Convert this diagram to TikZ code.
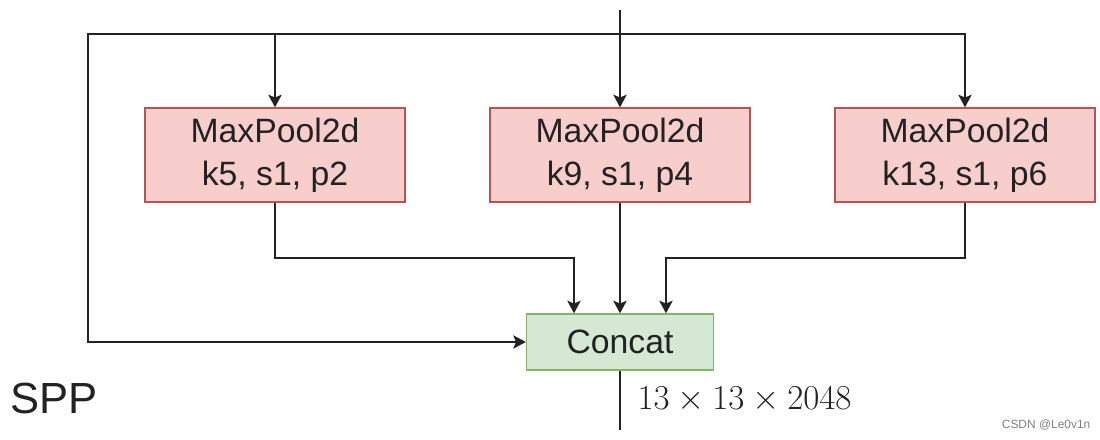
\documentclass[tikz,border=0pt]{standalone}
\usepackage{fontspec}
\setmainfont{Liberation Sans}
\usetikzlibrary{arrows.meta,positioning}
\definecolor{poolfill}{HTML}{F8CECC}
\definecolor{pooldraw}{HTML}{B85450}
\definecolor{catfill}{HTML}{D5E8D4}
\definecolor{catdraw}{HTML}{82B366}
\definecolor{ink}{HTML}{222222}
\tikzset{
  poolbox/.style = {rectangle, draw=pooldraw, fill=poolfill, line width=0.9pt, align=center, minimum width=6.5cm, minimum height=2.35cm, text=ink, font=\fontsize{24}{30.5}\selectfont},
  catbox/.style = {rectangle, draw=catdraw, fill=catfill, line width=0.9pt, align=center, minimum width=4.675cm, minimum height=1.4cm, text=ink, font=\fontsize{24}{30}\selectfont}
}

\begin{document}
\begin{tikzpicture}[->,>={Stealth[length=9pt,width=9.5pt,inset=2pt]},line width=1.3pt,draw=ink]
\useasboundingbox (0,0) rectangle (27.5,-11);
\node [poolbox] (pool1) at (6.875,-3.875) {MaxPool2d\\k5, s1, p2};
\node [poolbox] (pool2) at (15.5,-3.875) {MaxPool2d\\k9, s1, p4};
\node [poolbox] (pool3) at (24.125,-3.875) {MaxPool2d\\k13, s1, p6};
\node [catbox] (concat) at (15.5,-8.55) {Concat};
\coordinate (in) at (15.5,-0.25);
\coordinate (split) at (15.5,-0.85);
\coordinate (skip) at (2.2,-0.85);
\coordinate (merge1) at (14.35,-6.45);
\coordinate (merge3) at (16.65,-6.45);
\coordinate (out) at (15.5,-10.75);
% branches
\draw (in) -- (pool2);
\draw (split) -| (pool1.north);
\draw (split) -| (pool3.north);
\draw (split) -- (skip) |- (concat.west);
% merge
\draw (pool1.south) |- (merge1) -- (merge1 |- concat.north);
\draw (pool2.south) -- (concat.north);
\draw (pool3.south) |- (merge3) -- (merge3 |- concat.north);
\draw[-] (concat.south) -- (out);
\node [anchor=west, text=ink, font=\fontsize{24}{29}\selectfont] (size) at (15.8,-10.0) {$13\times13\times2048$};
\node [anchor=west, text=ink, font=\fontsize{31}{36}\selectfont] (spp) at (0.12,-9.95) {SPP};
\node [anchor=east, text=gray, font=\fontsize{8.5}{10}\selectfont] (mark) at (27.4,-10.62) {CSDN @Le0v1n};
\end{tikzpicture}
\end{document}
